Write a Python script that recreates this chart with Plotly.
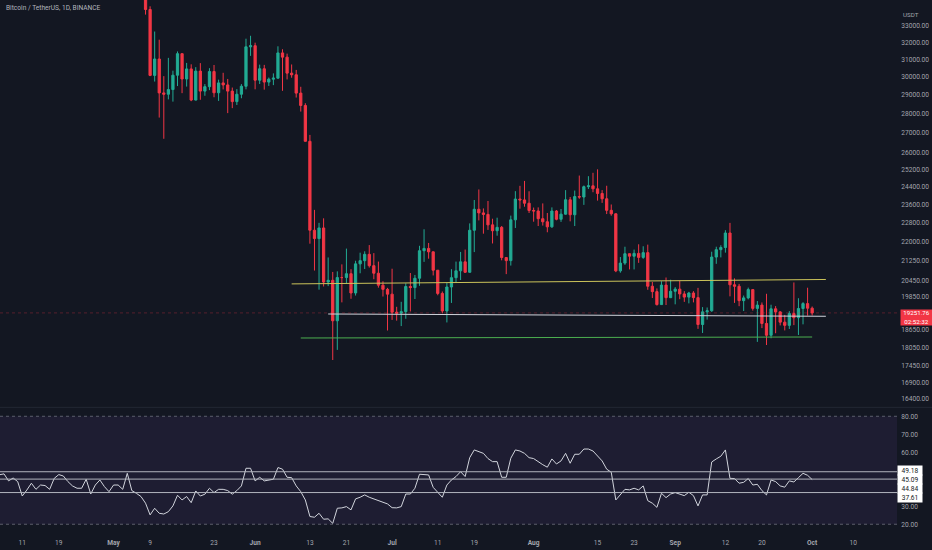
import math
import pandas as pd
import plotly.graph_objects as go

# ---------------- data ----------------
candle_start = "2022-05-08"
opens = [
    35472, 34038, 30076, 31017, 29103, 29030, 29287, 30086, 31328, 29874, 30444, 28715, 30319, 29201, 29445, 30293, 29110, 29655, 29542, 29201, 28630, 29031, 29468, 31734,
    31801, 29805, 30452, 29700, 29864, 29919, 31373, 31125, 30204, 30110, 29091, 28424, 26574, 22487, 22136, 22583, 20401, 20468, 18970, 20574, 20573, 20723, 19987, 21110, 21237, 21491, 21038, 20742, 20281, 20123,
    19942, 19279, 19243, 19297, 20231, 20190, 20548, 21637, 21731, 21592, 20860, 19970, 19323, 20212, 20569, 20836, 21190, 20779, 22485, 23389, 23231, 23164, 22714, 22465, 22609, 21361, 21239, 22930, 23843, 23804, 23656,
    23336, 23314, 22978, 22846, 22630, 23312, 22954, 23175, 23810, 23149, 23954, 23934, 24403, 24441, 24305, 24094, 23854, 23342, 23191, 20834, 21140, 21516, 21416, 21529, 21368, 21560, 20241, 20037, 19555, 20285, 19811,
    20050, 20131, 19951, 19832, 19986, 19812, 18837, 19290, 19329, 21381, 21680, 21769, 22370, 20296, 20241, 19701, 19803, 20113, 19416, 19537, 18875, 18461, 19401, 19289, 18920, 18807, 19227, 19079, 19412, 19591,
    19423,
]
highs = [
    35500, 34243, 32659, 32162, 30033, 31083, 30343, 31460, 31328, 30788, 30709, 30545, 30777, 29589, 30487, 30670, 29835, 30223, 29875, 29397, 29309, 29587, 32222, 32399,
    31982, 30690, 30675, 29955, 30189, 31765, 31589, 31330, 30700, 30387, 29440, 28544, 26895, 23362, 22800, 22995, 21365, 20792, 20815, 21090, 21723, 20900, 21233, 21558, 21614, 21868, 21540, 21200, 20432, 20179,
    20918, 19474, 19658, 20354, 20750, 20675, 21838, 22527, 21955, 21607, 20868, 20043, 20366, 20900, 21200, 21588, 21684, 22777, 23800, 24276, 23427, 23756, 22977, 23022, 22666, 21361, 23112, 24199, 24442, 24668, 24194,
    23464, 23472, 23648, 23227, 23472, 23354, 23400, 24245, 23933, 24226, 24918, 24456, 24888, 25047, 25211, 24247, 24446, 23600, 23208, 21382, 21800, 21522, 21683, 21900, 21819, 21886, 20402, 20158, 20433, 20576, 20490,
    20208, 20445, 20056, 20029, 20055, 20179, 19464, 19449, 21597, 21800, 21860, 22488, 22799, 20544, 20330, 19890, 20189, 20113, 19686, 19634, 19956, 19550, 19500, 19316, 19180, 19315, 20385, 19790, 19645, 20185,
    19485,
]
lows = [
    33713, 30033, 29730, 27785, 26700, 28751, 28630, 29480, 29088, 29450, 28654, 28693, 28730, 28947, 29255, 28866, 28669, 29294, 28019, 28282, 28450, 28812, 29299, 31200,
    29300, 29594, 29282, 29485, 29531, 29890, 29218, 29850, 29944, 28850, 28100, 26560, 21925, 20846, 20111, 20232, 20246, 17622, 17961, 19637, 20348, 19770, 19890, 20740, 20906, 20964, 20510, 20188, 19854, 18626,
    19000, 18975, 18782, 19041, 19304, 19761, 20256, 21189, 21316, 20655, 19901, 19235, 18910, 19616, 20385, 20478, 20750, 20762, 21582, 22906, 22341, 22500, 21934, 22257, 21250, 20706, 21042, 22582, 23414, 23502, 23227,
    22850, 22664, 22683, 22400, 22586, 22909, 22841, 23154, 22865, 22664, 23852, 23583, 24296, 24150, 23773, 23671, 23180, 23108, 20783, 20762, 21069, 20890, 20890, 21150, 21310, 20107, 19800, 19520, 19550, 19540, 19797,
    19565, 19754, 19655, 19600, 19636, 18684, 18540, 19011, 19291, 21111, 21367, 21560, 19860, 19617, 19497, 19320, 19748, 19335, 18232, 18711, 18125, 18356, 18531, 18805, 18629, 18680, 18816, 18471, 18843, 19155,
    19160,
]
closes = [
    34038, 30076, 31017, 29103, 29030, 29287, 30086, 31328, 29874, 30444, 28715, 30319, 29201, 29445, 30293, 29110, 29655, 29542, 29201, 28630, 29031, 29468, 31734, 31801,
    29805, 30452, 29700, 29864, 29919, 31373, 31125, 30204, 30110, 29091, 28424, 26574, 22487, 22136, 22583, 20401, 20468, 18970, 20574, 20573, 20723, 19987, 21110, 21237, 21491, 21038, 20742, 20281, 20123, 19942,
    19279, 19243, 19297, 20231, 20190, 20548, 21637, 21731, 21592, 20860, 19970, 19323, 20212, 20569, 20836, 21190, 20779, 22485, 23389, 23231, 23164, 22714, 22465, 22609, 21361, 21239, 22930, 23843, 23804, 23656, 23336,
    23314, 22978, 22846, 22630, 23312, 22954, 23175, 23810, 23149, 23954, 23934, 24403, 24441, 24305, 24094, 23854, 23342, 23191, 20834, 21140, 21516, 21416, 21529, 21368, 21560, 20241, 20037, 19555, 20285, 19811, 20050,
    20131, 19951, 19832, 19986, 19812, 18837, 19290, 19329, 21381, 21680, 21769, 22370, 20296, 20241, 19701, 19803, 20113, 19416, 19537, 18875, 18461, 19401, 19289, 18920, 18807, 19227, 19079, 19412, 19591, 19423,
    19251.76,
]

rsi_start = "2022-04-06"
rsi_values = [
    47.5, 48.0, 44.1, 45.7, 43.7, 35.7, 39.0, 42.8, 39.4, 41.8, 41.5, 39.4, 45.5, 47.6, 46.8, 43.7, 41.3, 40.0, 40.0, 45.0,
    36.8, 41.8, 44.6, 40.9, 38.1, 41.8, 41.8, 39.4, 48.3, 38.7, 37.2, 35.4, 31.7, 25.2, 28.9, 26.1, 25.7, 27.0, 30.2, 36.1,
    33.5, 35.4, 32.0, 38.5, 35.7, 36.7, 40.0, 37.6, 39.4, 39.4, 38.7, 36.7, 38.7, 41.3, 51.1, 51.1, 44.1, 46.1, 44.1, 44.6,
    45.0, 51.5, 50.6, 46.1, 45.9, 41.3, 38.1, 33.5, 24.3, 23.9, 26.1, 22.8, 23.0, 20.5, 28.9, 29.1, 29.8, 28.0, 34.1, 35.0,
    36.3, 35.0, 34.1, 32.8, 32.2, 31.3, 29.2, 29.1, 29.8, 36.8, 36.8, 40.0, 47.8, 47.8, 47.4, 40.5, 37.5, 35.0, 41.8, 44.6,
    46.5, 49.2, 46.5, 57.0, 61.3, 60.4, 59.4, 56.5, 54.8, 54.8, 46.1, 46.1, 56.7, 61.3, 60.7, 59.4, 57.0, 56.5, 54.6, 53.1,
    51.7, 56.3, 53.5, 55.2, 59.4, 53.9, 58.9, 58.9, 61.8, 61.8, 60.7, 58.1, 55.2, 50.6, 48.9, 33.5, 36.3, 39.4, 39.1, 40.0,
    39.1, 41.3, 33.1, 31.7, 29.4, 37.2, 34.8, 36.8, 37.6, 36.7, 35.9, 37.8, 35.9, 30.2, 36.3, 36.3, 54.6, 56.3, 57.8, 61.3,
    45.5, 45.4, 42.8, 43.3, 45.4, 41.8, 42.2, 38.7, 36.3, 44.6, 43.7, 41.3, 40.6, 44.1, 43.5, 45.9, 48.3, 47.2, 44.84,
]

rsi_levels = [49.18, 45.09, 37.61]
rsi_labels = [49.18, 45.09, 44.84, 37.61]

yellow_dates = ["2022-06-09", "2022-10-04"]
yellow_prices = [20330, 20500]
white_dates = ["2022-06-17", "2022-10-04"]
white_prices = [19213, 19131]
green_dates = ["2022-06-11", "2022-10-01"]
green_prices = [18366, 18400]

last_price = 19251.76
countdown = "02:52:32"

price_ticks = [33000, 32000, 31000, 30000, 29000, 28000, 27000, 26000, 25200, 24400, 23600,
               22800, 22000, 21250, 20450, 19850, 18650, 18050, 17450, 16900, 16400]
rsi_ticks = [80, 70, 60, 30, 20]
x_tick_dates = ["2022-04-11", "2022-04-19", "2022-05-01", "2022-05-09", "2022-05-23", "2022-06-01",
                "2022-06-13", "2022-06-21", "2022-07-01", "2022-07-11", "2022-07-19", "2022-08-01",
                "2022-08-15", "2022-08-23", "2022-09-01", "2022-09-12", "2022-09-20", "2022-10-01", "2022-10-10"]
x_tick_text = ["11", "19", "<b>May</b>", "9", "23", "<b>Jun</b>", "13", "21", "<b>Jul</b>", "11", "19",
               "<b>Aug</b>", "15", "23", "<b>Sep</b>", "12", "20", "<b>Oct</b>", "10"]

# ---------------- styling ----------------
BG = "#131722"
UP = "#22ab94"
DOWN = "#f23645"
TXT = "#a3a6ae"
FONT = "Roboto"
FS = 6.6

dates = pd.date_range(candle_start, periods=len(closes), freq="D")
rsi_dates = pd.date_range(rsi_start, periods=len(rsi_values), freq="D")

fig = go.Figure()
fig.add_trace(go.Candlestick(
    x=dates, open=opens, high=highs, low=lows, close=closes,
    xaxis="x", yaxis="y",
    increasing=dict(line=dict(color=UP, width=1), fillcolor=UP),
    decreasing=dict(line=dict(color=DOWN, width=1), fillcolor=DOWN),
    whiskerwidth=0, showlegend=False, hoverinfo="skip",
))
for dts, prs, col in [(yellow_dates, yellow_prices, "#cbc35a"),
                      (white_dates, white_prices, "#d1d4dc"),
                      (green_dates, green_prices, "#4caf50")]:
    fig.add_trace(go.Scatter(x=dts, y=prs, mode="lines", xaxis="x", yaxis="y",
                             line=dict(color=col, width=1), showlegend=False, hoverinfo="skip"))

fig.add_trace(go.Scatter(x=rsi_dates, y=rsi_values, mode="lines", xaxis="x", yaxis="y2",
                         line=dict(color="#d1d4dc", width=1), showlegend=False, hoverinfo="skip"))

# pane geometry (plot area height 532 px)
price_dom = [0.235, 1.0]
rsi_dom = [0.0, 0.2331]

shapes = [
    dict(type="rect", xref="paper", x0=0, x1=1, yref="y2", y0=20, y1=80,
         fillcolor="rgba(126,87,194,0.10)", line=dict(width=0), layer="below"),
    dict(type="line", xref="paper", x0=0, x1=1, yref="y2", y0=80, y1=80,
         line=dict(color="rgba(120,123,134,0.7)", width=1, dash="dot")),
    dict(type="line", xref="paper", x0=0, x1=1, yref="y2", y0=20, y1=20,
         line=dict(color="rgba(120,123,134,0.7)", width=1, dash="dot")),
    dict(type="line", xref="paper", x0=0, x1=1.04, yref="paper", y0=0.2343, y1=0.2343,
         line=dict(color="#232733", width=1)),
    dict(type="line", xref="paper", x0=0, x1=1, yref="y", y0=last_price, y1=last_price,
         line=dict(color="rgba(242,54,69,0.30)", width=1, dash="dot")),
]
for lv in rsi_levels:
    shapes.append(dict(type="line", xref="paper", x0=0, x1=1, yref="y2", y0=lv, y1=lv,
                       line=dict(color="#b2b5be", width=1)))

annotations = [
    dict(text="Bitcoin / TetherUS, 1D, BINANCE", xref="paper", yref="paper", x=0, y=1,
         xanchor="left", yanchor="middle", xshift=4, yshift=-8, showarrow=False,
         font=dict(family=FONT, size=FS, color="#b2b5be")),
    dict(text="USDT", xref="paper", yref="paper", x=1, y=1, xanchor="left", yanchor="middle",
         xshift=4, yshift=-15, showarrow=False, font=dict(family=FONT, size=FS - 0.4, color=TXT)),
    dict(text=f"{last_price:.2f}<br>{countdown}", xref="paper", yref="y", x=1, y=math.log10(last_price),
         xanchor="left", yanchor="top", xshift=3, yshift=4, showarrow=False, bgcolor=DOWN,
         borderpad=0, width=31, height=15, align="center",
         font=dict(family=FONT, size=6.2, color="#ffffff")),
]
label_shifts = [1.5, -0.3, -8.6, -4.7]
for v, sh in zip(rsi_labels, label_shifts):
    annotations.append(dict(text=f"{v:.2f}", xref="paper", yref="y2", x=1, y=v,
                            xanchor="left", yanchor="middle", xshift=0, yshift=sh,
                            showarrow=False, bgcolor="#ffffff", borderpad=0.5,
                            width=23, height=8, align="center",
                            font=dict(family=FONT, size=FS, color="#131722")))

fig.update_layout(
    width=932, height=550,
    margin=dict(l=0, r=35, t=0, b=18, autoexpand=False),
    paper_bgcolor=BG, plot_bgcolor=BG,
    font=dict(family=FONT, size=FS, color=TXT),
    showlegend=False,
    xaxis=dict(type="date", range=["2022-04-06 03:00", "2022-10-19 14:00"], anchor="y2",
               tickvals=x_tick_dates, ticktext=x_tick_text, showgrid=False, zeroline=False,
               showline=False, ticks="outside", ticklen=4, tickcolor="rgba(0,0,0,0)",
               tickfont=dict(family=FONT, size=FS, color=TXT),
               rangeslider=dict(visible=False), fixedrange=True),
    yaxis=dict(type="log", domain=price_dom, anchor="x", side="right",
               range=[math.log10(16134), math.log10(34651)],
               tickvals=price_ticks, ticktext=[f"{v:.2f}" for v in price_ticks],
               showgrid=False, zeroline=False, showline=False, ticks="outside", ticklen=2,
               tickcolor="rgba(0,0,0,0)", tickfont=dict(family=FONT, size=FS, color=TXT),
               fixedrange=True),
    yaxis2=dict(domain=rsi_dom, anchor="x", side="right", range=[15.7, 84.6],
                tickvals=rsi_ticks, ticktext=[f"{v:.2f}" for v in rsi_ticks],
                showgrid=False, zeroline=False, showline=False, ticks="outside", ticklen=2,
                tickcolor="rgba(0,0,0,0)", tickfont=dict(family=FONT, size=FS, color=TXT),
                fixedrange=True),
    shapes=shapes,
    annotations=annotations,
)

fig.write_html(
    "out.html",
    config={"displayModeBar": False},
    post_script="document.body.style.margin='0';document.body.style.background='#131722';"
                "document.body.style.overflow='hidden';",
)
